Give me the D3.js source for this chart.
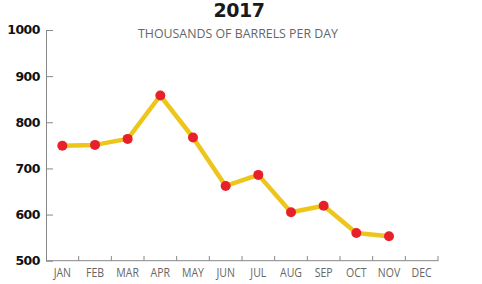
<!DOCTYPE html>
<html><head><meta charset="utf-8">
<script src="https://cdn.jsdelivr.net/npm/d3@7"></script>
<style>body{margin:0;background:#fff}svg{display:block}</style>
</head><body>
<svg id="c" width="482" height="284"></svg>
<script>
const months = ["JAN","FEB","MAR","APR","MAY","JUN","JUL","AUG","SEP","OCT","NOV","DEC"];
const values = [749, 751, 764, 858, 767, 662, 686, 605, 619, 560, 553];
const yTicks = [500, 600, 700, 800, 900, 1000];
const title = "2017";
const subtitle = "THOUSANDS OF BARRELS PER DAY";

const svg = d3.select("#c");
const x = d3.scaleBand().domain(months).range([46, 438]);
const y = d3.scaleLinear().domain([500, 1000]).range([260.7, 30]);

svg.append("text").attr("x", 239).attr("y", 17).attr("text-anchor", "middle")
  .attr("font-family", "DejaVu Sans").attr("font-weight", "bold").attr("font-size", 19)
  .attr("fill", "#1a1a1a").attr("letter-spacing", -0.5).text(title);
svg.append("text").attr("x", 238).attr("y", 38).attr("text-anchor", "middle")
  .attr("font-family", "Open Sans").attr("font-size", 13.5)
  .attr("fill", "#666").attr("textLength", 200).attr("lengthAdjust", "spacingAndGlyphs").text(subtitle);

// y axis
const yAxis = svg.append("g").attr("transform", "translate(46,0)")
  .call(d3.axisRight(y).tickValues(yTicks).tickSize(7).tickFormat(""));
yAxis.select(".domain").remove();
yAxis.selectAll("line").attr("stroke", "#888");
svg.append("line").attr("x1", 46.5).attr("x2", 46.5).attr("y1", y(1000)).attr("y2", y(500)).attr("stroke", "#888");
svg.selectAll(".ylab").data(yTicks).join("text").attr("class", "ylab")
  .attr("x", 40).attr("y", d => y(d)).attr("dy", "0.35em").attr("text-anchor", "end")
  .attr("font-family", "DejaVu Sans").attr("font-weight", "bold").attr("font-size", 12.5)
  .attr("fill", "#111").attr("letter-spacing", -0.5).text(d => d);

// x axis
svg.append("line").attr("x1", 46).attr("x2", 438.5).attr("y1", 260.7).attr("y2", 260.7).attr("stroke", "#888");
svg.selectAll(".xt").data(months).join("line").attr("class", "xt")
  .attr("x1", d => x(d) + x.bandwidth()).attr("x2", d => x(d) + x.bandwidth())
  .attr("y1", 260.7).attr("y2", 256).attr("stroke", "#888");
svg.selectAll(".xlab").data(months).join("text").attr("class", "xlab")
  .attr("x", d => x(d) + x.bandwidth() / 2).attr("y", 277.5).attr("text-anchor", "middle")
  .attr("font-family", "Open Sans").attr("font-size", 13.5).attr("fill", "#666")
  .attr("transform", d => `translate(${x(d) + x.bandwidth()/2},0) scale(0.78,1) translate(${-(x(d) + x.bandwidth()/2)},0)`)
  .text(d => d);

const pts = values.map((v, i) => [x(months[i]) + x.bandwidth() / 2, y(v)]);
svg.append("path").attr("d", d3.line()(pts)).attr("fill", "none")
  .attr("stroke", "#EEC51B").attr("stroke-width", 4.5).attr("stroke-linejoin", "round");
svg.selectAll(".dot").data(pts).join("circle").attr("class", "dot")
  .attr("cx", d => d[0]).attr("cy", d => d[1]).attr("r", 5).attr("fill", "#E8202A");
</script>
</body></html>
